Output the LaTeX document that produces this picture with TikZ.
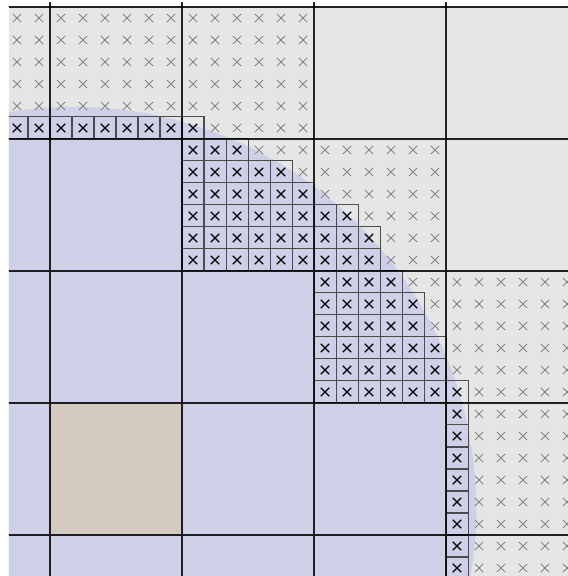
\documentclass[tikz,border=0pt]{standalone}
\usepackage{xcolor}
\usepackage{tikz}

\definecolor{bggray}{HTML}{E5E5E5}
\definecolor{lavfill}{HTML}{CED0E8}
\definecolor{tanfill}{HTML}{D3CBC0}

% one cross in cell (#2,#3), style #1
\newcommand{\cellx}[3]{\draw[#1] (#2+.31,#3+.31) -- (#2+.69,#3+.69) (#2+.31,#3+.69) -- (#2+.69,#3+.31);}

\begin{document}
\begin{tikzpicture}[x=5mm, y=-5mm,
  blk/.style={draw=black, draw opacity=.85, line width=1.3pt},
  cellbox/.style={draw=black!70, line width=.65pt},
  grayx/.style={draw=black!48, line width=.55pt},
  blackx/.style={draw=black, line width=.8pt}
]
\useasboundingbox (-2.2727,-0.318) rectangle (23.545,25.864);
\begin{scope}
\clip (-1.864,-0.2) rectangle (23.6,26);
% background, disc and tan block
\fill[bggray] (-3,0) rectangle (24,26);
\fill[lavfill] (1.09,22.82) circle[radius=91.4mm];
\fill[tanfill] (0,18) rectangle (6,24);
% light crosses (row/first/last)
\foreach \r/\a/\b in {0/-2/11,1/-2/11,2/-2/11,3/-2/11,4/-2/11,5/7/11,
    6/9/17,7/11/17,8/12/17,9/14/17,10/15/17,11/15/17,
    12/16/23,13/17/23,14/17/23,15/18/23,16/18/23,17/19/23,
    18/19/23,19/19/23,20/19/23,21/19/23,22/19/23,23/19/23,24/19/23,25/19/23}
  \foreach \c in {\a,...,\b} {\cellx{grayx}{\c}{\r}}
% boxed cells (row/first/last)
\foreach \r/\a/\b in {5/-2/6,6/6/8,7/6/10,8/6/11,9/6/13,10/6/14,11/6/14,
    12/12/15,13/12/16,14/12/16,15/12/17,16/12/17,17/12/18,
    18/18/18,19/18/18,20/18/18,21/18/18,22/18/18,23/18/18,24/18/18,25/18/18}
  \foreach \c in {\a,...,\b} {
    \draw[cellbox] (\c,\r) rectangle ++(1,1);
    \cellx{blackx}{\c}{\r}
  }
% block lines
\foreach \k in {0,6,12,18} \draw[blk] (\k,-1) -- (\k,27);
\foreach \k in {0,6,12,18,24} \draw[blk] (-3,\k) -- (25,\k);
\end{scope}
\end{tikzpicture}
\end{document}
